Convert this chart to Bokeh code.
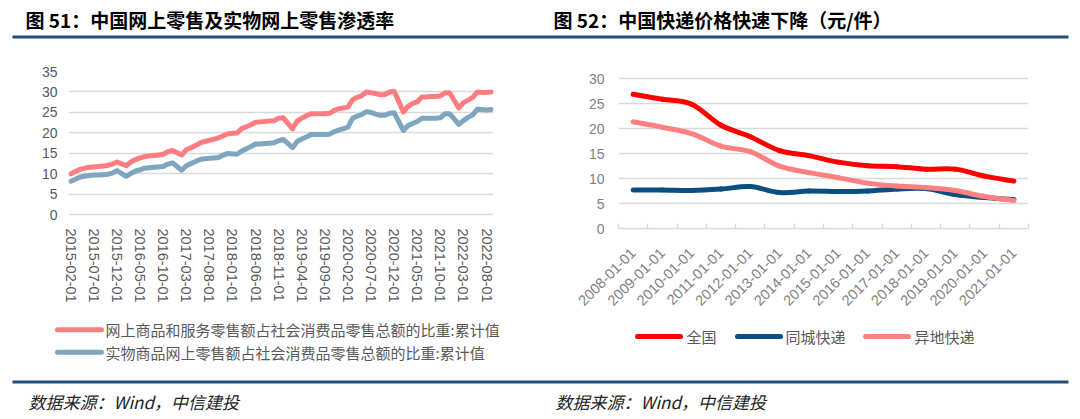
import math
from bokeh.plotting import figure
from bokeh.models import FixedTicker, Range1d
from bokeh.layouts import row, column
from bokeh.core.properties import value
from bokeh.embed import file_html
from bokeh.resources import INLINE

# ---------------- data: left chart (monthly, Jan not published) ----------------
months = [f"{y}-{m:02d}" for y in range(2015, 2023) for m in range(2, 13)
          if not (y == 2022 and m > 9)]
online_goods_services = [
    10.0, 10.6, 11.1, 11.4, 11.6, 11.7, 11.8, 11.9, 12.1, 12.4, 12.9,   # 2015
    12.0, 12.9, 13.5, 13.9, 14.2, 14.4, 14.5, 14.6, 14.8, 15.4, 15.7,   # 2016
    14.6, 15.9, 16.4, 16.9, 17.6, 17.9, 18.2, 18.5, 18.8, 19.3, 19.8,   # 2017
    20.0, 21.1, 21.5, 22.0, 22.6, 22.7, 22.8, 22.9, 23.0, 23.6, 23.7,   # 2018
    21.0, 22.9, 23.6, 24.2, 24.7, 24.7, 24.7, 24.7, 24.8, 25.5, 25.9,   # 2019
    26.3, 28.1, 28.7, 29.1, 30.0, 29.8, 29.6, 29.3, 29.4, 30.0, 30.2,   # 2020
    25.1, 26.5, 27.2, 27.6, 28.8, 28.8, 28.9, 28.9, 29.0, 29.8, 29.8,   # 2021
    26.1, 27.4, 28.0, 28.7, 30.0, 29.9, 29.9, 30.0,                     # 2022
]
online_physical = [
    8.2, 8.7, 9.2, 9.4, 9.6, 9.7, 9.7, 9.8, 9.9, 10.2, 10.8,
    9.4, 10.1, 10.7, 11.0, 11.4, 11.5, 11.6, 11.7, 11.8, 12.4, 12.7,
    10.9, 12.0, 12.5, 13.0, 13.5, 13.7, 13.8, 13.9, 14.0, 14.6, 15.0,
    14.8, 15.6, 16.1, 16.7, 17.3, 17.3, 17.4, 17.5, 17.6, 18.1, 18.4,
    16.4, 17.9, 18.5, 19.0, 19.6, 19.6, 19.6, 19.6, 19.7, 20.3, 20.7,
    21.4, 23.6, 24.1, 24.5, 25.2, 25.0, 24.6, 24.3, 24.3, 24.8, 24.9,
    20.6, 21.8, 22.3, 22.8, 23.6, 23.6, 23.6, 23.6, 23.7, 24.7, 24.7,
    22.1, 23.0, 23.8, 24.4, 25.8, 25.7, 25.6, 25.7,
]
left_tick_labels = ["2015-02-01", "2015-07-01", "2015-12-01", "2016-05-01", "2016-10-01",
                    "2017-03-01", "2017-08-01", "2018-01-01", "2018-06-01", "2018-11-01",
                    "2019-04-01", "2019-09-01", "2020-02-01", "2020-07-01", "2020-12-01",
                    "2021-05-01", "2021-10-01", "2022-03-01", "2022-08-01"]
left_series_names = ["网上商品和服务零售额占社会消费品零售总额的比重:累计值",
                     "实物商品网上零售额占社会消费品零售总额的比重:累计值"]

# ---------------- data: right chart (yearly) ----------------
years = ["2008-01-01", "2009-01-01", "2010-01-01", "2011-01-01", "2012-01-01",
         "2013-01-01", "2014-01-01", "2015-01-01", "2016-01-01", "2017-01-01",
         "2018-01-01", "2019-01-01", "2020-01-01", "2021-01-01"]
price_all = [26.9, 25.9, 24.9, 20.7, 18.4, 15.6, 14.6, 13.3, 12.6, 12.4, 11.9, 11.9, 10.5, 9.5]
price_local = [7.7, 7.7, 7.6, 7.9, 8.4, 7.2, 7.5, 7.4, 7.5, 7.9, 8.0, 6.8, 6.2, 5.8]
price_remote = [21.4, 20.3, 19.0, 16.5, 15.4, 12.5, 11.2, 10.2, 9.1, 8.5, 8.2, 7.6, 6.4, 5.6]
right_series_names = ["全国", "同城快递", "异地快递"]

TITLES = ["图 51：中国网上零售及实物网上零售渗透率", "图 52：中国快递价格快速下降（元/件）"]
SOURCE = "数据来源：Wind，中信建投"

# ---------------- layout constants (page has no margin) ----------------
PAGE_W = 1080
HDR_H, MID_H, FTR_H = 53, 267, 99
CJK = "Noto Sans CJK SC"
LAT = "Liberation Sans"
GRID = "#d9d9d9"
RULE = "#1f4e79"
C_PINK, C_BLUEGRAY = "#ff7c80", "#7fa6c0"
C_RED, C_NAVY, C_SALMON = "#ff0000", "#0b4f80", "#ff8080"


def blank(h):
    # decoration strip whose data space equals page pixels (y grows downward)
    p = figure(width=PAGE_W, height=h, output_backend="svg", toolbar_location=None,
               x_range=Range1d(0, PAGE_W), y_range=Range1d(h, 0),
               x_axis_location=None, y_axis_location=None,
               min_border=0, min_border_left=0, min_border_right=0,
               min_border_top=0, min_border_bottom=0)
    p.outline_line_color = None
    p.xgrid.visible = False
    p.ygrid.visible = False
    return p


# ================= header (page y 0..53) =================
hdr = blank(HDR_H)
hdr.text(x=[25, 553], y=[19, 19], text=TITLES, text_font=value(CJK),
         text_font_style="bold", text_font_size="19px", text_color="#000000",
         text_baseline="middle", text_align="left")
hdr.quad(left=[12], right=[1068], top=[35], bottom=[38], fill_color=RULE, line_color=None)

# ================= left chart (page y 53..320) =================
T_B, B_B = 18, 92  # shared top/bottom borders -> frame page y 71..228


def month_index(m):
    y, mm = m.split("-")
    return (int(y) - 2015) * 12 + int(mm) - 2


p1 = figure(width=548, height=MID_H, output_backend="svg", toolbar_location=None,
            x_range=Range1d(-0.5, 91.5), y_range=Range1d(-3.34, 35.0),
            min_border_left=68, min_border_right=55,
            min_border_top=T_B, min_border_bottom=B_B)
p1.outline_line_color = None
p1.xgrid.visible = False
p1.ygrid.grid_line_color = GRID
p1.ygrid.grid_line_width = 1.3
p1.yaxis.ticker = FixedTicker(ticks=list(range(0, 36, 5)))
p1.yaxis.axis_line_color = None
p1.yaxis.major_tick_line_color = None
p1.yaxis.minor_tick_line_color = None
p1.yaxis.major_tick_out = 0
p1.yaxis.major_tick_in = 0
p1.yaxis.major_label_standoff = 11
p1.yaxis.major_label_text_font = LAT
p1.yaxis.major_label_text_font_size = "14px"
p1.yaxis.major_label_text_color = "#595959"

xt = [month_index(s[:7]) for s in left_tick_labels]
p1.xaxis.ticker = FixedTicker(ticks=xt)
p1.xaxis.major_label_overrides = {t: s for t, s in zip(xt, left_tick_labels)}
p1.xaxis.major_label_orientation = "vertical"
p1.xaxis.axis_line_color = None
p1.xaxis.major_tick_line_color = None
p1.xaxis.minor_tick_line_color = None
p1.xaxis.major_tick_out = 0
p1.xaxis.major_tick_in = 0
p1.xaxis.major_label_standoff = 0
p1.xaxis.major_label_text_font = LAT
p1.xaxis.major_label_text_font_size = "14.5px"
p1.xaxis.major_label_text_color = "#595959"

mx = [month_index(m) for m in months]
p1.line(mx, online_physical, line_color=C_BLUEGRAY, line_width=5,
        line_join="round", line_cap="round")
p1.line(mx, online_goods_services, line_color=C_PINK, line_width=5,
        line_join="round", line_cap="round")

# ================= right chart =================
p2 = figure(width=532, height=MID_H, output_backend="svg", toolbar_location=None,
            x_range=Range1d(-0.5, len(years) - 0.5), y_range=Range1d(0, 31.47),
            min_border_left=70, min_border_right=52,
            min_border_top=T_B, min_border_bottom=B_B)
p2.outline_line_color = None
p2.xgrid.visible = False
p2.ygrid.grid_line_color = GRID
p2.ygrid.grid_line_width = 1.3
p2.yaxis.ticker = FixedTicker(ticks=list(range(0, 31, 5)))
p2.yaxis.axis_line_color = None
p2.yaxis.major_tick_line_color = None
p2.yaxis.minor_tick_line_color = None
p2.yaxis.major_tick_out = 0
p2.yaxis.major_tick_in = 0
p2.yaxis.major_label_standoff = 14
p2.yaxis.major_label_text_font = LAT
p2.yaxis.major_label_text_font_size = "14px"
p2.yaxis.major_label_text_color = "#7f7f7f"

cx = list(range(len(years)))
p2.xaxis.ticker = FixedTicker(ticks=cx, minor_ticks=[i - 0.5 for i in range(len(years) + 1)])
p2.xaxis.major_label_overrides = {i: s for i, s in zip(cx, years)}
p2.xaxis.major_label_orientation = math.pi / 4
p2.xaxis.axis_line_color = GRID
p2.xaxis.axis_line_width = 1.5
p2.xaxis.major_tick_line_color = None
p2.xaxis.major_tick_in = 0
p2.xaxis.major_tick_out = 0
p2.xaxis.minor_tick_line_color = GRID
p2.xaxis.minor_tick_line_width = 1.3
p2.xaxis.minor_tick_in = 5
p2.xaxis.minor_tick_out = 0
p2.xaxis.major_label_standoff = 22
p2.xaxis.major_label_text_font = LAT
p2.xaxis.major_label_text_font_size = "14.5px"
p2.xaxis.major_label_text_color = "#7f7f7f"


def bezier_segments(xs, ys):
    n = len(xs)
    out = {k: [] for k in ("x0", "y0", "x1", "y1", "cx0", "cy0", "cx1", "cy1")}
    for i in range(n - 1):
        a = i - 1 if i > 0 else i
        d = i + 2 if i + 2 < n else i + 1
        out["x0"].append(xs[i]); out["y0"].append(ys[i])
        out["x1"].append(xs[i + 1]); out["y1"].append(ys[i + 1])
        out["cx0"].append(xs[i] + (xs[i + 1] - xs[a]) / 6)
        out["cy0"].append(ys[i] + (ys[i + 1] - ys[a]) / 6)
        out["cx1"].append(xs[i + 1] - (xs[d] - xs[i]) / 6)
        out["cy1"].append(ys[i + 1] - (ys[d] - ys[i]) / 6)
    return out


for vals, col in [(price_local, C_NAVY), (price_remote, C_SALMON), (price_all, C_RED)]:
    p2.bezier(**bezier_segments(cx, vals), line_color=col, line_width=5, line_cap="round")

# ================= footer (page y 320..419) =================
ftr = blank(FTR_H)
# left legend
ftr.segment(x0=[57, 57], y0=[9.3, 31.7], x1=[101, 101], y1=[9.3, 31.7],
            line_color=[C_PINK, C_BLUEGRAY], line_width=5, line_cap="round")
ftr.text(x=[105, 105], y=[9.3, 31.7], text=left_series_names, text_font=value(CJK),
         text_font_size="15px", text_color="#595959", text_baseline="middle")
# right legend
lx = [637, 737, 865]
ftr.segment(x0=lx, y0=[16] * 3, x1=[v + 43 for v in lx], y1=[16] * 3,
            line_color=[C_RED, C_NAVY, C_SALMON], line_width=5, line_cap="round")
ftr.text(x=[686, 785, 914], y=[16] * 3, text=right_series_names, text_font=value(CJK),
         text_font_size="15px", text_color="#595959", text_baseline="middle")
# bottom rule and sources
ftr.quad(left=[12], right=[1068], top=[60], bottom=[63], fill_color=RULE, line_color=None)
ftr.text(x=[28, 555], y=[81, 81], text=[SOURCE, SOURCE], text_font=value(CJK),
         text_font_style="italic", text_font_size="17px", text_color="#222222",
         text_baseline="middle")

layout = column(hdr, row(p1, p2), ftr)
open("out.html", "w").write(file_html(layout, INLINE))
